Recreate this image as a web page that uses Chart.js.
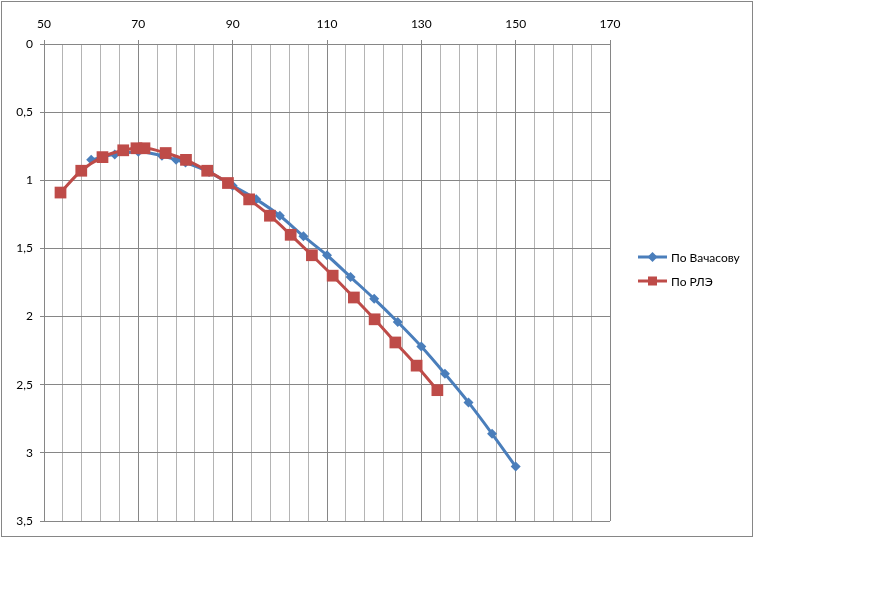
<!DOCTYPE html>
<html>
<head>
<meta charset="utf-8">
<script src="https://cdn.jsdelivr.net/npm/chart.js@4.4.1/dist/chart.umd.min.js"></script>
<style>
    body { margin: 0; background: #fff; font-family: Lato, "Open Sans", sans-serif; }
    #frame { position: absolute; left: 1px; top: 1px; width: 750px; height: 534px; border: 1px solid #868686; }
    #chart { position: absolute; left: 0; top: 0; }
    .legend-row { position: absolute; left: 637px; height: 14px; display: flex; align-items: center; font-size: 12px; color: #000; }
    .legend-row svg { margin-right: 3px; }
</style>
</head>
<body>
<div id="frame">
    <canvas id="chart" width="750" height="534"></canvas>
</div>
<div class="legend-row" style="top:250px">
    <svg width="31" height="12"><line x1="1" y1="6" x2="30" y2="6" stroke="#4A7EBB" stroke-width="3"/><polygon points="15.5,1 20.5,6 15.5,11 10.5,6" fill="#4A7EBB"/></svg>
    <span>По Вачасову</span>
</div>
<div class="legend-row" style="top:274px">
    <svg width="31" height="12"><line x1="1" y1="6" x2="30" y2="6" stroke="#BE4B48" stroke-width="3"/><rect x="11" y="1.5" width="9" height="9" fill="#BE4B48"/></svg>
    <span>По РЛЭ</span>
</div>
<script>
// Values
const seriesNames = ['По Вачасову', 'По РЛЭ'];

const vachasovX = [60, 65, 70, 75, 78, 80, 85, 90, 95, 100, 105, 110, 115, 120, 125, 130, 135, 140, 145, 150];
const vachasovY = [0.85, 0.81, 0.79, 0.82, 0.85, 0.87, 0.94, 1.04, 1.14, 1.26, 1.41, 1.55, 1.71, 1.87, 2.04, 2.22, 2.42, 2.63, 2.86, 3.10];

const rleX = [53.5, 57.9, 62.4, 66.8, 69.6, 71.3, 75.8, 80.1, 84.6, 89.0, 93.5, 97.9, 102.3, 106.8, 111.2, 115.7, 120.1, 124.5, 129.0, 133.4];
const rleY = [1.09, 0.93, 0.83, 0.78, 0.765, 0.765, 0.80, 0.85, 0.93, 1.02, 1.14, 1.26, 1.40, 1.55, 1.70, 1.86, 2.02, 2.19, 2.36, 2.54];

const xMin = 50, xMax = 170, xMinorStep = 4;
const xTickLabels = [50, 70, 90, 110, 130, 150, 170];
const yTickLabels = [0, 0.5, 1, 1.5, 2, 2.5, 3, 3.5];

const majorGrid = '#868686';
const minorGrid = '#b4b4b4';

function toPoints(xs, ys) {
    return xs.map((x, i) => ({ x: x, y: ys[i] }));
}

function isMajorX(v) {
    return xTickLabels.includes(v);
}

const xGrid = [];
for (let v = xMin; v <= xMax; v += xMinorStep) xGrid.push(v);

new Chart(document.getElementById('chart'), {
    type: 'line',
    data: {
        datasets: [{
            label: seriesNames[0],
            data: toPoints(vachasovX, vachasovY),
            borderColor: '#4A7EBB',
            backgroundColor: '#4A7EBB',
            borderWidth: 3,
            pointStyle: 'rectRot',
            pointRadius: 5,
            pointBorderWidth: 0,
            cubicInterpolationMode: 'monotone',
            order: 1
        }, {
            label: seriesNames[1],
            data: toPoints(rleX, rleY),
            borderColor: '#BE4B48',
            backgroundColor: '#BE4B48',
            borderWidth: 3,
            pointStyle: 'rect',
            pointRadius: 8.3,
            pointBorderWidth: 0,
            cubicInterpolationMode: 'monotone',
            order: 0
        }]
    },
    options: {
        responsive: false,
        animation: false,
        devicePixelRatio: 1,
        layout: { padding: { left: 0, top: 0, right: 142, bottom: 15 } },
        plugins: {
            legend: { display: false },
            tooltip: { enabled: false }
        },
        scales: {
            x: {
                type: 'linear',
                position: 'top',
                min: xMin,
                max: xMax,
                afterBuildTicks: scale => { scale.ticks = xGrid.map(v => ({ value: v })); },
                afterFit: scale => { scale.height = 42; },
                ticks: {
                    autoSkip: false,
                    maxRotation: 0,
                    padding: 9,
                    color: '#000',
                    font: { family: 'Lato, "Open Sans", sans-serif', size: 12 },
                    callback: v => isMajorX(v) ? String(v) : ''
                },
                grid: {
                    color: ctx => isMajorX(ctx.tick.value) ? majorGrid : minorGrid,
                    tickColor: ctx => isMajorX(ctx.tick.value) ? majorGrid : 'rgba(0,0,0,0)',
                    tickLength: 4,
                    lineWidth: 1
                },
                border: { color: majorGrid }
            },
            y: {
                type: 'linear',
                reverse: true,
                min: 0,
                max: 3.5,
                afterBuildTicks: scale => { scale.ticks = yTickLabels.map(v => ({ value: v })); },
                afterFit: scale => { scale.width = 42; },
                ticks: {
                    padding: 7,
                    color: '#000',
                    font: { family: 'Lato, "Open Sans", sans-serif', size: 12 },
                    callback: v => String(v).replace('.', ',')
                },
                grid: {
                    color: majorGrid,
                    tickColor: majorGrid,
                    tickLength: 4,
                    lineWidth: 1
                },
                border: { color: majorGrid }
            }
        }
    }
});
</script>
</body>
</html>
